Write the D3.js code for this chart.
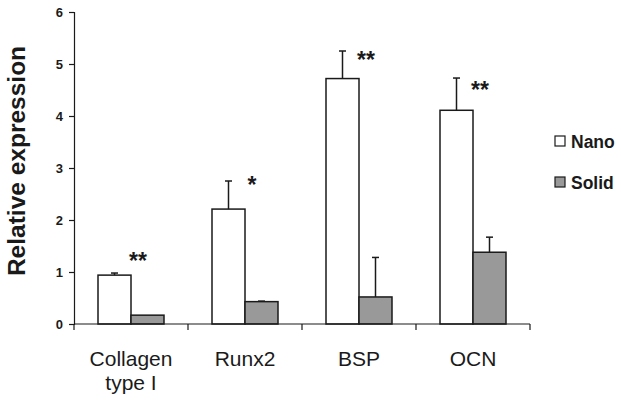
<!DOCTYPE html>
<html>
<head>
<meta charset="utf-8">
<script src="https://cdn.jsdelivr.net/npm/d3@7"></script>
<style>
  html, body { margin: 0; padding: 0; background: #fff; }
  svg { display: block; font-family: "Liberation Sans", Arial, sans-serif; }
</style>
</head>
<body>
<svg id="chart" width="621" height="401"></svg>
<script>
// ---- data ----
const categories = ["Collagen type I", "Runx2", "BSP", "OCN"];
const categoryLines = [["Collagen", "type I"], ["Runx2"], ["BSP"], ["OCN"]];
const seriesNames = ["Nano", "Solid"];
const nanoValues = [0.94, 2.21, 4.72, 4.11];
const nanoErrors = [0.04, 0.54, 0.53, 0.62];
const solidValues = [0.17, 0.43, 0.52, 1.38];
const solidErrors = [0.0, 0.01, 0.76, 0.29];
const significance = ["**", "*", "**", "**"];
const significanceLevel = [1.29, 2.75, 5.15, 4.58];
const yTicks = [0, 1, 2, 3, 4, 5, 6];

// ---- layout ----
const svg = d3.select("#chart");
const mLeft = 74, mRight = 530, mTop = 12, mBottom = 324;
const ink = "#1a1a1a";
const fills = { Nano: "#ffffff", Solid: "#999999" };

const x0 = d3.scaleBand().domain(categories).range([mLeft, mRight]).padding(0);
const x1 = d3.scaleBand().domain(seriesNames).range([24, x0.bandwidth() - 24]).padding(0);
const y = d3.scaleLinear().domain([0, 6]).range([mBottom, mTop]);

const rows = categories.map((c, i) => ({
  cat: c,
  bars: [
    { s: "Nano", v: nanoValues[i], e: nanoErrors[i] },
    { s: "Solid", v: solidValues[i], e: solidErrors[i] }
  ]
}));

// ---- y axis ----
const yAxis = d3.axisLeft(y).tickValues(yTicks).tickSize(5).tickSizeOuter(5).tickPadding(6)
  .tickFormat(d3.format("d"));
const gy = svg.append("g").attr("transform", `translate(${mLeft},0)`).call(yAxis);
gy.select(".domain").attr("stroke", ink).attr("stroke-width", 1.2);
gy.selectAll(".tick line").attr("stroke", ink).attr("stroke-width", 1.2);
gy.selectAll(".tick text").attr("fill", ink).attr("font-size", 13).attr("font-weight", "bold")
  .attr("font-family", "'Liberation Sans', Arial, sans-serif");

// ---- bars ----
const groups = svg.append("g").selectAll("g").data(rows).join("g")
  .attr("transform", d => `translate(${x0(d.cat)},0)`);

groups.selectAll("rect").data(d => d.bars).join("rect")
  .attr("x", d => x1(d.s))
  .attr("y", d => y(d.v))
  .attr("width", x1.bandwidth())
  .attr("height", d => y(0) - y(d.v))
  .attr("fill", d => fills[d.s])
  .attr("stroke", ink)
  .attr("stroke-width", 1.5);

// error bars (upper only)
const eb = groups.selectAll("g.err").data(d => d.bars.filter(b => b.e > 0)).join("g").attr("class", "err");
eb.append("line")
  .attr("x1", d => x1(d.s) + x1.bandwidth() / 2)
  .attr("x2", d => x1(d.s) + x1.bandwidth() / 2)
  .attr("y1", d => y(d.v))
  .attr("y2", d => y(d.v + d.e))
  .attr("stroke", ink).attr("stroke-width", 1.5);
eb.append("line")
  .attr("x1", d => x1(d.s) + x1.bandwidth() / 2 - 3.5)
  .attr("x2", d => x1(d.s) + x1.bandwidth() / 2 + 3.5)
  .attr("y1", d => y(d.v + d.e))
  .attr("y2", d => y(d.v + d.e))
  .attr("stroke", ink).attr("stroke-width", 1.5);

// ---- x axis ----
const gx = svg.append("g");
gx.append("line").attr("x1", mLeft).attr("x2", mRight).attr("y1", y(0)).attr("y2", y(0))
  .attr("stroke", ink).attr("stroke-width", 1.2);
gx.selectAll("line.tk").data(categories).join("line").attr("class", "tk")
  .attr("x1", d => x0(d) + x0.bandwidth()).attr("x2", d => x0(d) + x0.bandwidth())
  .attr("y1", y(0)).attr("y2", y(0) + 6)
  .attr("stroke", ink).attr("stroke-width", 1.2);
gx.append("line").attr("x1", mLeft).attr("x2", mLeft).attr("y1", y(0)).attr("y2", y(0) + 6)
  .attr("stroke", ink).attr("stroke-width", 1.2);

const labels = gx.selectAll("text.cat").data(categories).join("text").attr("class", "cat")
  .attr("x", d => x0(d) + x0.bandwidth() / 2)
  .attr("y", y(0) + 42)
  .attr("text-anchor", "middle")
  .attr("font-size", 21)
  .attr("fill", ink);
labels.selectAll("tspan").data((d, i) => categoryLines[i]).join("tspan")
  .attr("x", function() { return d3.select(this.parentNode).attr("x"); })
  .attr("dy", (d, i) => i === 0 ? 0 : 24)
  .text(d => d);

// ---- significance stars ----
svg.append("g").selectAll("text").data(categories).join("text")
  .attr("x", d => x0(d) + 64)
  .attr("y", (d, i) => y(significanceLevel[i]) + 12)
  .attr("text-anchor", "middle")
  .attr("font-size", 23)
  .attr("font-weight", "bold")
  .attr("fill", ink)
  .text((d, i) => significance[i]);

// ---- y label ----
svg.append("text")
  .attr("transform", `translate(25,161) rotate(-90)`)
  .attr("text-anchor", "middle")
  .attr("font-size", 24.5)
  .attr("font-weight", "bold")
  .attr("fill", ink)
  .text("Relative expression");

// ---- legend ----
const lg = svg.append("g").selectAll("g").data(seriesNames).join("g")
  .attr("transform", (d, i) => `translate(555,${136 + i * 41})`);
lg.append("rect").attr("width", 10).attr("height", 10)
  .attr("fill", d => fills[d]).attr("stroke", ink).attr("stroke-width", 1.2);
lg.append("text").attr("x", 16).attr("y", 11.5).attr("font-size", 17.5).attr("font-weight", "bold")
  .attr("fill", ink).text(d => d);
</script>
</body>
</html>
